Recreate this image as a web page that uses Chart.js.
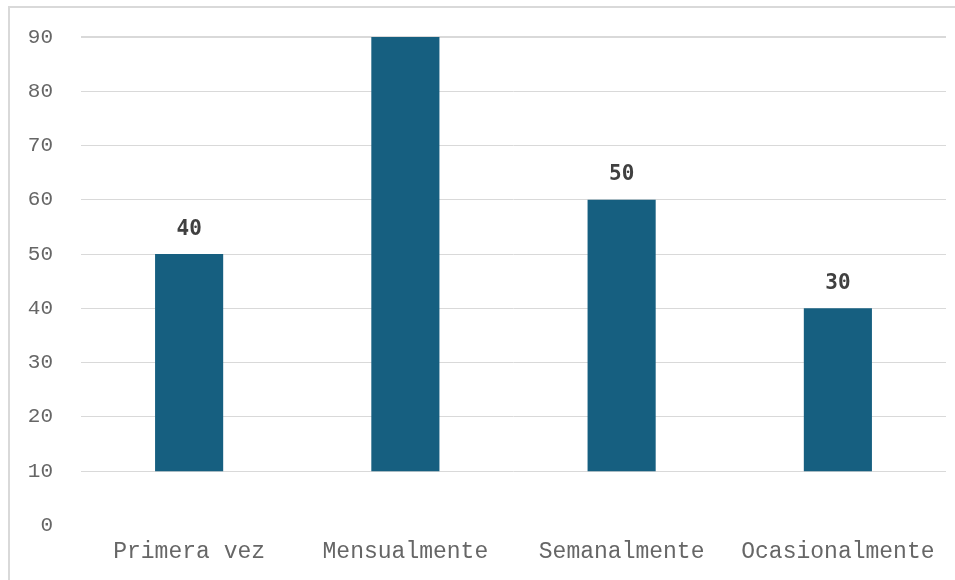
<!DOCTYPE html>
<html>
<head>
<meta charset="utf-8">
<script src="https://cdn.jsdelivr.net/npm/chart.js@4"></script>
<style>
  html, body { margin: 0; padding: 0; background: #fff; }
  #wrap { width: 955px; height: 580px; position: relative; }
</style>
</head>
<body>
<div id="wrap"><canvas id="chart"></canvas></div>
<script>
// frequency categories and counts
const categories = ['Primera vez', 'Mensualmente', 'Semanalmente', 'Ocasionalmente'];
const counts = [40, 80, 50, 30];
// bars start from this value on the axis
const barBase = 10;
const yTicks = [0, 10, 20, 30, 40, 50, 60, 70, 80, 90];

const barColor = '#165f80';
const gridColor = '#d9d9d9';
const axisFont = '"Liberation Mono", "Courier New", monospace';

// light frame along the top and left edges
const framePlugin = {
    id: 'frame',
    beforeDraw(chart) {
        const ctx = chart.ctx;
        ctx.save();
        ctx.strokeStyle = gridColor;
        ctx.lineWidth = 2;
        ctx.beginPath();
        ctx.moveTo(9, chart.height + 5);
        ctx.lineTo(9, 7);
        ctx.lineTo(chart.width + 5, 7);
        ctx.stroke();
        ctx.restore();
    }
};

// count labels above each bar, only inside the plot area
const countLabels = {
    id: 'countLabels',
    afterDatasetsDraw(chart) {
        const ctx = chart.ctx;
        const area = chart.chartArea;
        const meta = chart.getDatasetMeta(0);
        ctx.save();
        ctx.font = 'bold 21px "DejaVu Sans Mono", monospace';
        ctx.fillStyle = '#404040';
        ctx.textAlign = 'center';
        ctx.textBaseline = 'middle';
        meta.data.forEach((bar, i) => {
            const y = bar.y - 25;
            if (y < area.top) return;
            ctx.fillText(String(counts[i]), bar.x, y);
        });
        ctx.restore();
    }
};

new Chart(document.getElementById('chart'), {
    type: 'bar',
    data: {
        labels: categories,
        datasets: [{
            data: counts.map(v => [barBase, barBase + v]),
            backgroundColor: barColor,
            borderWidth: 0,
            categoryPercentage: 1,
            barPercentage: 0.315
        }]
    },
    options: {
        responsive: true,
        maintainAspectRatio: false,
        animation: false,
        layout: { padding: { top: 37, right: 9, bottom: 9, left: 0 } },
        plugins: {
            legend: { display: false },
            tooltip: { enabled: false }
        },
        scales: {
            x: {
                grid: { display: false },
                border: { display: false },
                ticks: {
                    color: '#666666',
                    padding: 5,
                    font: { family: axisFont, size: 23 }
                }
            },
            y: {
                min: yTicks[0],
                max: yTicks[yTicks.length - 1],
                afterFit(scale) {
                    scale.width = 81;
                    scale.paddingTop = 0;
                    scale.paddingBottom = 0;
                },
                afterBuildTicks(scale) {
                    scale.ticks = yTicks.map(v => ({ value: v }));
                },
                grid: {
                    drawTicks: false,
                    color: c => c.tick && c.tick.value === 0 ? 'rgba(0,0,0,0)' : gridColor,
                    lineWidth: c => c.tick && c.tick.value === 90 ? 2 : 1
                },
                border: { display: false },
                ticks: {
                    color: '#666666',
                    padding: 28,
                    font: { family: axisFont, size: 21 }
                }
            }
        }
    },
    plugins: [framePlugin, countLabels]
});
</script>
</body>
</html>
